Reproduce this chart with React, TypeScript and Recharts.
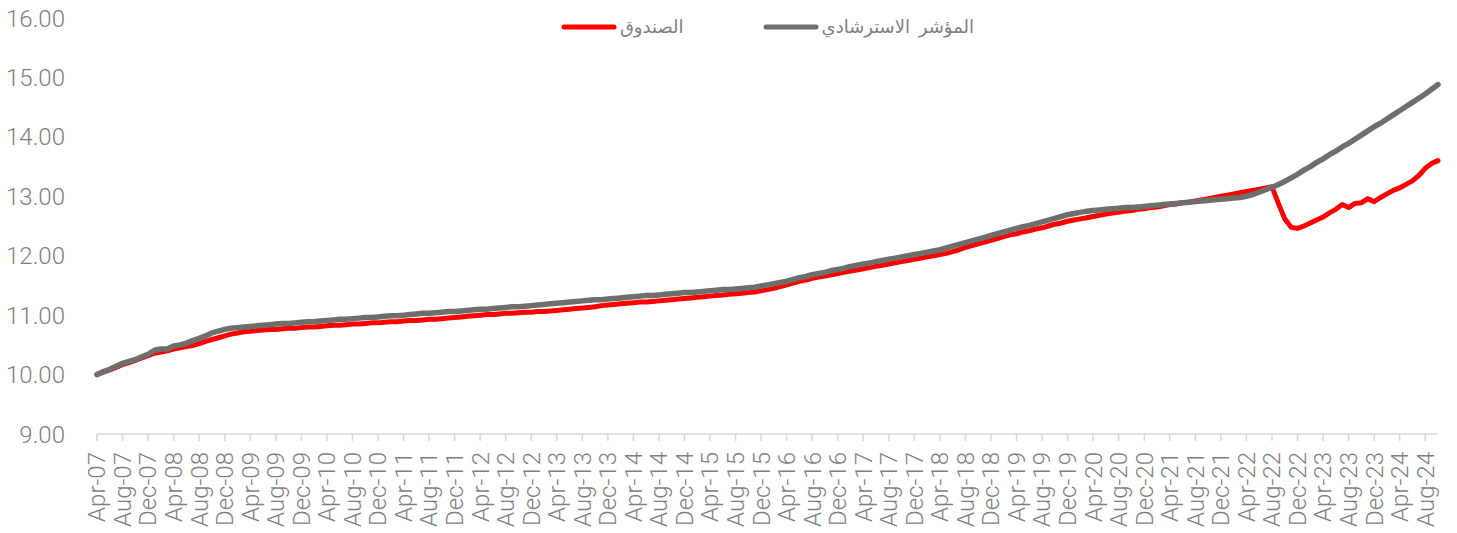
import React from 'react';

import { Legend, Line, LineChart, XAxis, YAxis } from 'recharts';

const MONTHS = ['Jan', 'Feb', 'Mar', 'Apr', 'May', 'Jun', 'Jul', 'Aug', 'Sep', 'Oct', 'Nov', 'Dec'];
const FIRST_MONTH = 3; // Apr
const FIRST_YEAR = 7; // 2007

const SERIES_NAMES = { fund: 'الصندوق', benchmark: 'المؤشر  الاسترشادي' };

// monthly, Apr-07 .. Oct-24
const fundValues = [
  10.0, 10.04, 10.08, 10.12, 10.17, 10.2, 10.24, 10.28, 10.32,
  10.36, 10.38, 10.4, 10.43, 10.45, 10.47, 10.49, 10.52, 10.56, 10.59, 10.62, 10.65,
  10.68, 10.7, 10.72, 10.73, 10.74, 10.75, 10.76, 10.76, 10.77, 10.78, 10.78, 10.79,
  10.8, 10.8, 10.81, 10.82, 10.83, 10.83, 10.84, 10.85, 10.85, 10.86, 10.87, 10.87,
  10.88, 10.89, 10.89, 10.9, 10.91, 10.91, 10.92, 10.93, 10.93, 10.94, 10.95, 10.96,
  10.97, 10.98, 10.99, 11.0, 11.01, 11.01, 11.02, 11.03, 11.03, 11.04, 11.05, 11.05,
  11.06, 11.06, 11.07, 11.08, 11.09, 11.1, 11.11, 11.12, 11.13, 11.14, 11.16, 11.17,
  11.18, 11.19, 11.2, 11.21, 11.22, 11.22, 11.23, 11.24, 11.25, 11.26, 11.27, 11.28,
  11.29, 11.3, 11.31, 11.32, 11.33, 11.34, 11.35, 11.36, 11.37, 11.38, 11.39, 11.41,
  11.43, 11.45, 11.48, 11.51, 11.54, 11.57, 11.59, 11.62, 11.64, 11.66, 11.68, 11.7,
  11.72, 11.74, 11.76, 11.78, 11.8, 11.82, 11.84, 11.86, 11.88, 11.9, 11.92, 11.94,
  11.96, 11.98, 12.0, 12.02, 12.04, 12.07, 12.1, 12.14, 12.17, 12.2, 12.23, 12.26,
  12.29, 12.32, 12.35, 12.37, 12.4, 12.42, 12.45, 12.47, 12.5, 12.53, 12.55, 12.58,
  12.6, 12.62, 12.64, 12.66, 12.68, 12.7, 12.72, 12.73, 12.75, 12.76, 12.78, 12.79,
  12.81, 12.82, 12.84, 12.86, 12.87, 12.89, 12.9, 12.92, 12.94, 12.96, 12.98, 13.0,
  13.02, 13.04, 13.06, 13.08, 13.1, 13.12, 13.14, 13.16, 12.88, 12.62, 12.48, 12.46,
  12.5, 12.55, 12.6, 12.65, 12.72, 12.78, 12.86, 12.81, 12.88, 12.89, 12.96, 12.91,
  12.98, 13.04, 13.1, 13.14, 13.2, 13.26, 13.35, 13.47, 13.55, 13.6,
];

const benchmarkValues = [
  10.0, 10.05, 10.09, 10.14, 10.19, 10.22, 10.25, 10.3, 10.34,
  10.41, 10.43, 10.43, 10.48, 10.5, 10.53, 10.57, 10.61, 10.65, 10.7, 10.73, 10.76,
  10.78, 10.79, 10.8, 10.81, 10.82, 10.83, 10.84, 10.85, 10.86, 10.86, 10.87, 10.88,
  10.89, 10.89, 10.9, 10.91, 10.92, 10.93, 10.93, 10.94, 10.95, 10.96, 10.96, 10.97,
  10.98, 10.99, 10.99, 11.0, 11.01, 11.02, 11.03, 11.03, 11.04, 11.05, 11.06, 11.06,
  11.07, 11.08, 11.09, 11.1, 11.1, 11.11, 11.12, 11.13, 11.14, 11.14, 11.15, 11.16,
  11.17, 11.18, 11.19, 11.2, 11.21, 11.22, 11.23, 11.24, 11.25, 11.26, 11.26, 11.27,
  11.28, 11.29, 11.3, 11.31, 11.32, 11.33, 11.33, 11.34, 11.35, 11.36, 11.37, 11.38,
  11.38, 11.39, 11.4, 11.41, 11.42, 11.43, 11.43, 11.44, 11.45, 11.46, 11.47, 11.49,
  11.51, 11.53, 11.55, 11.57, 11.6, 11.63, 11.65, 11.68, 11.7, 11.72, 11.75, 11.77,
  11.79, 11.82, 11.84, 11.86, 11.88, 11.9, 11.92, 11.94, 11.96, 11.98, 12.0, 12.02,
  12.04, 12.06, 12.08, 12.1, 12.13, 12.16, 12.19, 12.22, 12.25, 12.28, 12.31, 12.34,
  12.37, 12.4, 12.43, 12.46, 12.49, 12.51, 12.54, 12.57, 12.6, 12.63, 12.66, 12.69,
  12.71, 12.73, 12.75, 12.76, 12.77, 12.78, 12.79, 12.8, 12.81, 12.81, 12.82, 12.83,
  12.84, 12.85, 12.86, 12.87, 12.88, 12.89, 12.9, 12.91, 12.92, 12.93, 12.94, 12.95,
  12.96, 12.97, 12.98, 13.0, 13.03, 13.07, 13.11, 13.15, 13.2, 13.25, 13.31, 13.37,
  13.44, 13.5, 13.57, 13.63, 13.7, 13.76, 13.83, 13.89, 13.96, 14.03, 14.1, 14.17,
  14.23, 14.3, 14.37, 14.44, 14.51, 14.58, 14.65, 14.72, 14.8, 14.88,
];

const yTicks = [9, 10, 11, 12, 13, 14, 15, 16];

const monthLabel = (i: number) => {
  const k = FIRST_MONTH + i;
  const yy = FIRST_YEAR + Math.floor(k / 12);
  return `${MONTHS[k % 12]}-${String(yy).padStart(2, '0')}`;
};

const data = fundValues.map((v, i) => ({
  label: monthLabel(i),
  fund: v,
  benchmark: benchmarkValues[i],
}));

const FONT = "Roboto, 'DejaVu Sans', sans-serif";
const GREY_TEXT = '#7f7f7f';

const XTick = ({ x, y, payload }: any) => (
  <text
    x={x}
    y={y}
    transform={`rotate(-90 ${x} ${y})`}
    textAnchor="end"
    dy="0.35em"
    fill={GREY_TEXT}
    fontSize={24}
    fontWeight={300}
    fontFamily={FONT}
  >
    {payload.value}
  </text>
);

const renderLegend = (props: any) => (
  <div style={{ display: 'flex', justifyContent: 'center', gap: 79, fontFamily: FONT, fontSize: 18, color: GREY_TEXT }}>
    {props.payload.map((item: any) => (
      <div key={item.value} style={{ display: 'flex', alignItems: 'center' }}>
        <svg width={56} height={8}>
          <line x1={3} y1={4} x2={53} y2={4} stroke={item.color} strokeWidth={5} strokeLinecap="round" />
        </svg>
        <span style={{ marginLeft: 3, whiteSpace: 'pre' }}>{item.value}</span>
      </div>
    ))}
  </div>
);

export default function App() {
  return (
    <div style={{ position: 'absolute', left: 0, top: 0, width: 1457, height: 533, background: '#fff' }}>
      <LineChart width={1457} height={533} data={data} margin={{ top: 18, right: 19, left: 0, bottom: 0 }}>
        <XAxis
          dataKey="label"
          interval={3}
          height={99}
          tick={<XTick />}
          tickSize={7}
          tickMargin={11}
          axisLine={{ stroke: '#d9d9d9', strokeWidth: 1.5 }}
          tickLine={{ stroke: '#d9d9d9', strokeWidth: 1.5 }}
        />
        <YAxis
          width={97}
          domain={[9, 16]}
          ticks={yTicks}
          allowDataOverflow
          axisLine={false}
          tickLine={false}
          tickMargin={26}
          tickFormatter={(v: number) => v.toFixed(2)}
          tick={{ fill: GREY_TEXT, fontSize: 24, fontWeight: 300, fontFamily: FONT }}
        />
        <Legend
          verticalAlign="middle"
          align="center"
          content={renderLegend}
          wrapperStyle={{ top: 16, left: 97, width: 1341 }}
        />
        <Line
          name={SERIES_NAMES.fund}
          dataKey="fund"
          stroke="#ff0000"
          strokeWidth={5}
          dot={false}
          activeDot={false}
          strokeLinecap="round"
          strokeLinejoin="round"
          isAnimationActive={false}
        />
        <Line
          name={SERIES_NAMES.benchmark}
          dataKey="benchmark"
          stroke="#6e6f6a"
          strokeWidth={5.5}
          dot={false}
          activeDot={false}
          strokeLinecap="round"
          strokeLinejoin="round"
          isAnimationActive={false}
        />
      </LineChart>
    </div>
  );
}
